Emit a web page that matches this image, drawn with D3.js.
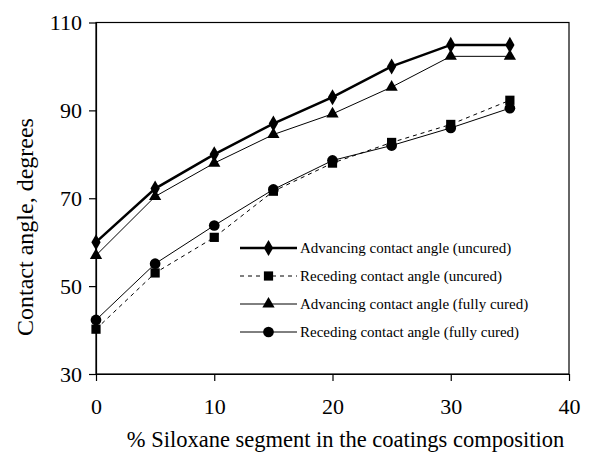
<!DOCTYPE html>
<html>
<head>
<meta charset="utf-8"/>
<title>Contact angle</title>
<script src="https://cdn.jsdelivr.net/npm/d3@7"></script>
<style>
html, body {
    margin: 0;
    padding: 0;
    background: #fff;
}
svg text {
    font-family: "Liberation Serif", "DejaVu Serif", "Times New Roman", Times, serif !important;
    fill: #000;
}
</style>
</head>
<body>
<svg id="chart"></svg>
<script>

// Data.
const siloxane = [0, 5, 10, 15, 20, 25, 30, 35];
const advUncured = [60, 72.2, 80, 87, 93, 100, 104.9, 104.9];
const recUncured = [40.2, 53, 61.1, 71.6, 78, 82.7, 86.8, 92.3];
const advCured = [57, 70.4, 78, 84.5, 89.2, 95.3, 102.3, 102.3];
const recCured = [42.3, 55.1, 63.8, 72, 78.6, 82, 86, 90.5];
const xTicks = [0, 10, 20, 30, 40];
const yTicks = [30, 50, 70, 90, 110];
const seriesNames = [
    "Advancing contact angle (uncured)",
    "Receding contact angle (uncured)",
    "Advancing contact angle (fully cured)",
    "Receding contact angle (fully cured)"
];

const width = 610, height = 457;
const margin = {top: 22.5, right: 41, bottom: 83, left: 96};

const svg = d3.select("#chart")
    .attr("width", width)
    .attr("height", height);

// Scales.
const x = d3.scaleLinear().domain([0, 40]).range([margin.left, width - margin.right]);
const y = d3.scaleLinear().domain([30, 110]).range([height - margin.bottom, margin.top]);

// Frame.
svg.append("rect")
    .attr("x", x(0))
    .attr("y", y(110))
    .attr("width", x(40) - x(0))
    .attr("height", y(30) - y(110))
    .attr("fill", "none")
    .attr("stroke", "#000")
    .attr("stroke-width", 1.2);

// Axes.
const xAxis = svg.append("g")
    .attr("transform", "translate(0," + y(30) + ")")
    .call(d3.axisBottom(x).tickValues(xTicks).tickSize(7).tickPadding(17).tickSizeOuter(0));
const yAxis = svg.append("g")
    .attr("transform", "translate(" + x(0) + ",0)")
    .call(d3.axisLeft(y).tickValues(yTicks).tickSize(7).tickPadding(7).tickSizeOuter(0));
[xAxis, yAxis].forEach(function(g) {
    g.attr("font-family", null);
    g.select(".domain").attr("stroke-width", 1.2);
    g.selectAll(".tick line").attr("stroke-width", 1.2);
    g.selectAll(".tick text")
        .style("font-size", "22px")
        .attr("fill", "#000");
});

// Axis titles.
svg.append("text")
    .attr("x", (x(0) + x(40)) / 2 + 13)
    .attr("y", 447)
    .style("text-anchor", "middle")
    .style("font-size", "22.5px")
    .text("% Siloxane segment in the coatings composition");
svg.append("text")
    .attr("transform", "translate(33,227) rotate(-90)")
    .style("text-anchor", "middle")
    .style("font-size", "24px")
    .text("Contact angle, degrees");

// Series.
const series = [
    {values: advUncured, width: 2.5, dash: null, symbol: d3.symbolDiamond, size: 75},
    {values: recUncured, width: 1, dash: "4,4", symbol: d3.symbolSquare, size: 85},
    {values: advCured, width: 1, dash: null, symbol: d3.symbolTriangle, size: 65},
    {values: recCured, width: 1, dash: null, symbol: d3.symbolCircle, size: 90}
];

const line = d3.line()
    .x(function(d) { return x(d[0]); })
    .y(function(d) { return y(d[1]); });

series.forEach(function(s) {
    const pts = siloxane.map(function(v, i) { return [v, s.values[i]]; });
    svg.append("path")
        .attr("d", line(pts))
        .attr("fill", "none")
        .attr("stroke", "#000")
        .attr("stroke-width", s.width)
        .attr("stroke-dasharray", s.dash);
    svg.selectAll(null)
        .data(pts)
        .enter().append("path")
        .attr("transform", function(d) { return "translate(" + x(d[0]) + "," + y(d[1]) + ")"; })
        .attr("d", d3.symbol().type(s.symbol).size(s.size))
        .attr("fill", "#000");
});

// Legend.
const legend = svg.append("g").attr("transform", "translate(240,248)");
series.forEach(function(s, i) {
    const g = legend.append("g").attr("transform", "translate(0," + (i * 28) + ")");
    g.append("line")
        .attr("x1", 0).attr("x2", 57)
        .attr("stroke", "#000")
        .attr("stroke-width", s.width)
        .attr("stroke-dasharray", s.dash);
    g.append("path")
        .attr("transform", "translate(28.5,0)")
        .attr("d", d3.symbol().type(s.symbol).size(s.size))
        .attr("fill", "#000");
    g.append("text")
        .attr("x", 60)
        .attr("dy", "0.35em")
        .style("font-size", "15px")
        .text(seriesNames[i]);
});

</script>
</body>
</html>
